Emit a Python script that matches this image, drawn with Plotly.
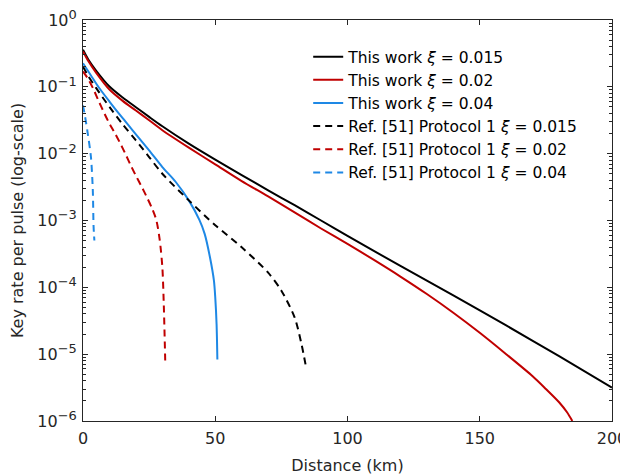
import plotly.graph_objects as go

# ---- data ----
km_this_0015 = [0, 2, 5, 10, 15, 20, 25, 30, 40, 50, 60, 70, 80, 90, 100, 120, 140, 160, 180, 200]
rate_this_0015 = [0.359, 0.257, 0.174, 0.101, 0.0692, 0.0495, 0.0355, 0.0257, 0.0141, 8.13e-3,
                  4.79e-3, 2.82e-3, 1.70e-3, 1.00e-3, 5.89e-4, 2.09e-4, 7.59e-5, 2.69e-5, 9.33e-6,
                  3.16e-6]

km_this_002 = [0, 2, 5, 10, 15, 20, 25, 30, 40, 50, 60, 70, 80, 90, 100, 110, 120, 130, 140, 150,
               160, 170, 175, 180, 183, 185]
rate_this_002 = [0.339, 0.243, 0.162, 0.0912, 0.0617, 0.0442, 0.0316, 0.0224, 0.0123, 6.92e-3,
                 3.89e-3, 2.29e-3, 1.32e-3, 7.59e-4, 4.47e-4, 2.57e-4, 1.45e-4, 7.94e-5, 4.17e-5,
                 2.09e-5, 1.00e-5, 4.68e-6, 3.02e-6, 1.91e-6, 1.35e-6, 1.00e-6]

km_this_004 = [0, 3, 6, 10, 15, 20, 25, 30, 35, 40, 44, 46, 48, 49.5, 50, 50.5, 50.8]
rate_this_004 = [0.226, 0.148, 0.0977, 0.0603, 0.0339, 0.0195, 0.0112, 6.31e-3, 3.80e-3, 2.00e-3,
                 1.02e-3, 6.31e-4, 2.82e-4, 1.26e-4, 7.08e-5, 2.82e-5, 8.32e-6]

km_ref_0015 = [0, 2, 5, 10, 15, 20, 25, 30, 40, 50, 60, 70, 75, 80, 82.5, 84.4]
rate_ref_0015 = [0.200, 0.145, 0.0955, 0.0501, 0.0275, 0.0158, 8.91e-3, 5.01e-3, 2.00e-3, 8.51e-4,
                 3.98e-4, 1.66e-4, 8.91e-5, 3.55e-5, 1.48e-5, 6.17e-6]

km_ref_002 = [0, 2, 4, 6, 8, 10, 12, 14, 16, 18, 20, 22, 24, 26, 27.7, 29, 30, 30.5, 31.1]
rate_ref_002 = [0.170, 0.130, 0.0912, 0.0603, 0.0407, 0.0282, 0.0204, 0.0145, 0.0100, 6.76e-3,
                4.68e-3, 3.31e-3, 2.29e-3, 1.55e-3, 1.02e-3, 5.13e-4, 2.00e-4, 6.31e-5, 7.59e-6]

km_ref_004 = [0, 0.8, 1.8, 3.0, 3.7, 4.0, 4.3]
rate_ref_004 = [0.0525, 0.0355, 0.0200, 8.91e-3, 2.88e-3, 8.13e-4, 5.01e-4]

series_names = [
    "This work <i>ξ</i> = 0.015",
    "This work <i>ξ</i> = 0.02",
    "This work <i>ξ</i> = 0.04",
    "Ref. [51] Protocol 1 <i>ξ</i> = 0.015",
    "Ref. [51] Protocol 1 <i>ξ</i> = 0.02",
    "Ref. [51] Protocol 1 <i>ξ</i> = 0.04",
]

x_ticks = [0, 50, 100, 150, 200]
y_tick_vals = [1, 1e-1, 1e-2, 1e-3, 1e-4, 1e-5, 1e-6]
y_exponents = ["0", "−1", "−2", "−3", "−4", "−5", "−6"]
y_tick_text = ["10<sup><span style='font-size:13px'>" + e + "</span></sup>" for e in y_exponents]

BLACK = "#000000"
RED = "#C00000"
BLUE = "#1E88E5"
DASH = "7px,5px"

xs = [km_this_0015, km_this_002, km_this_004, km_ref_0015, km_ref_002, km_ref_004]
ys = [rate_this_0015, rate_this_002, rate_this_004, rate_ref_0015, rate_ref_002, rate_ref_004]
colors = [BLACK, RED, BLUE, BLACK, RED, BLUE]
dashes = ["solid", "solid", "solid", DASH, DASH, DASH]

fig = go.Figure()
for i in range(6):
    fig.add_trace(go.Scatter(
        x=xs[i], y=ys[i], mode="lines", name=series_names[i],
        legendgroup=f"g{i}",
        line=dict(color=colors[i], width=2, dash=dashes[i], shape="spline", smoothing=0.8),
    ))

axis_color = "#262626"
FAM = "DejaVu Sans, Liberation Sans, Arial, sans-serif"
font = dict(family=FAM, size=16, color="#262626")

# the page body adds an 8px offset, so the figure is 620x468 with matching margins
fig.update_layout(
    width=620, height=468,
    margin=dict(l=75, r=16, t=12, b=55),
    paper_bgcolor="white", plot_bgcolor="white",
    font=font,
    showlegend=True,
    legend=dict(
        x=0.4257, y=0.95, xanchor="left", yanchor="top",
        bgcolor="rgba(0,0,0,0)", borderwidth=0,
        font=dict(family=FAM, size=15.5, color="#000000"),
        traceorder="grouped", tracegroupgap=0,
    ),
)
fig.update_xaxes(
    range=[0, 200], tickvals=x_ticks, ticks="inside", ticklen=5,
    showline=True, linecolor=axis_color, linewidth=1, mirror="allticks",
    tickcolor=axis_color, showgrid=False, zeroline=False, automargin=False,
    ticklabelstandoff=3, ticklabeloverflow="allow",
    title=dict(text="Distance (km)", standoff=12, font=dict(size=16)),
    tickfont=dict(size=16),
)
fig.update_yaxes(
    type="log", range=[-6, 0], tickvals=y_tick_vals, ticktext=y_tick_text,
    ticks="inside", ticklen=5, tickcolor=axis_color,
    minor=dict(ticks="inside", ticklen=3, tickcolor=axis_color, dtick="D1", showgrid=False),
    showline=True, linecolor=axis_color, linewidth=1, mirror="allticks",
    showgrid=False, zeroline=False, automargin=False,
    ticklabelstandoff=2, ticklabeloverflow="allow",
    title=dict(text="Key rate per pulse (log-scale)", standoff=17, font=dict(size=16)),
    tickfont=dict(size=16),
)

fig.write_html("out.html")
